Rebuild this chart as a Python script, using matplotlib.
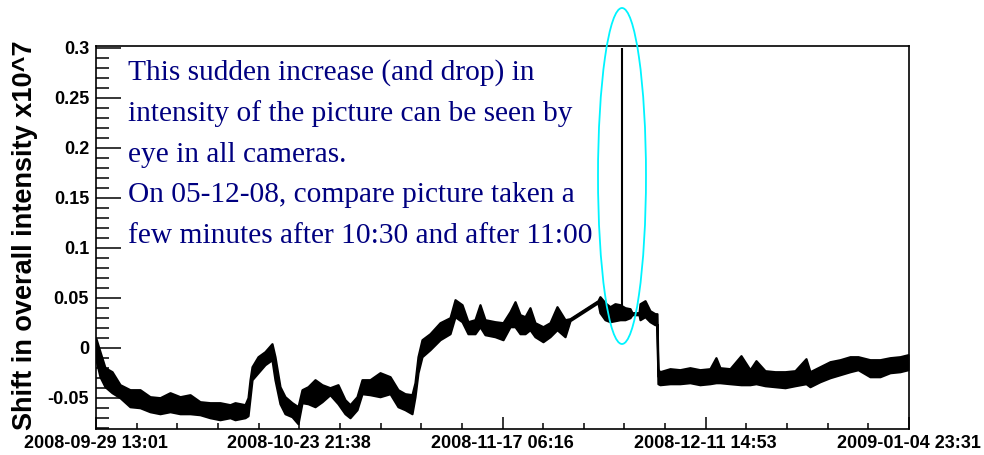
import datetime as dt
import matplotlib
matplotlib.use("Agg")
import matplotlib.pyplot as plt
import matplotlib.dates as mdates
from matplotlib.patches import Ellipse
from matplotlib.ticker import FixedLocator, MultipleLocator, FuncFormatter

# x axis tick labels (first and last are the axis ends)
xtick_labels = ["2008-09-29 13:01", "2008-10-23 21:38", "2008-11-17 06:16",
                "2008-12-11 14:53", "2009-01-04 23:31"]

# trace envelope: days since the first label, low / high value
days = [0.00, 0.48, 1.08, 1.92, 2.88, 4.07, 5.27, 6.47, 7.67, 8.87, 10.07, 11.27,
        12.46, 13.66, 14.86, 16.06, 16.66, 17.86, 18.22, 18.46, 18.70, 19.42, 20.25,
        21.09, 21.45, 22.05, 22.65, 23.49, 24.21, 24.69, 25.41, 26.25, 27.09, 28.04,
        29.00, 29.84, 30.44, 31.28, 31.88, 32.84, 34.04, 35.24, 36.19, 37.03, 37.87,
        38.23, 38.59, 39.07, 40.03, 41.23, 42.43, 43.03, 43.87, 44.58, 45.42, 46.02,
        46.62, 47.82, 48.78, 49.62, 50.22, 50.82, 51.42, 52.01, 52.61, 53.57, 54.41,
        55.25, 56.21, 56.81, 60.16, 60.40, 61.00, 61.60, 62.20, 62.80, 63.40, 64.00,
        64.24, 65.08, 65.20, 65.80, 66.39, 66.99, 67.23, 67.35, 67.59, 68.79, 69.98,
        71.18, 72.38, 73.58, 74.30, 74.78, 75.98, 77.30, 78.38, 79.10, 80.18, 81.38,
        82.58, 83.78, 85.09, 85.57, 86.77, 87.97, 89.17, 90.37, 91.33, 92.76, 93.96,
        95.16, 96.36, 97.32]
high = [0.009, -0.004, -0.020, -0.024, -0.037, -0.042, -0.042, -0.049, -0.050, -0.045,
        -0.049, -0.047, -0.054, -0.055, -0.055, -0.057, -0.055, -0.057, -0.050, -0.032,
        -0.019, -0.009, -0.004, 0.004, -0.009, -0.039, -0.049, -0.055, -0.059, -0.042,
        -0.039, -0.032, -0.037, -0.040, -0.037, -0.052, -0.057, -0.049, -0.032, -0.032,
        -0.025, -0.029, -0.042, -0.046, -0.047, -0.035, -0.009, 0.008, 0.014, 0.025,
        0.030, 0.048, 0.043, 0.026, 0.028, 0.043, 0.028, 0.026, 0.025, 0.036, 0.046,
        0.033, 0.031, 0.040, 0.025, 0.021, 0.025, 0.041, 0.028, 0.029, 0.047, 0.051,
        0.045, 0.041, 0.044, 0.043, 0.040, 0.039, 0.035, 0.035, 0.044, 0.047, 0.037,
        0.034, 0.034, -0.022, -0.024, -0.021, -0.022, -0.020, -0.022, -0.021, -0.010,
        -0.020, -0.021, -0.008, -0.022, -0.013, -0.023, -0.024, -0.024, -0.023, -0.011,
        -0.024, -0.019, -0.014, -0.012, -0.009, -0.009, -0.012, -0.012, -0.010, -0.009,
        -0.007]
low = [-0.012, -0.029, -0.039, -0.045, -0.050, -0.059, -0.060, -0.064, -0.066, -0.064,
       -0.066, -0.066, -0.067, -0.070, -0.072, -0.070, -0.072, -0.070, -0.068, -0.050,
       -0.032, -0.025, -0.017, -0.012, -0.032, -0.056, -0.066, -0.069, -0.076, -0.055,
       -0.056, -0.059, -0.054, -0.047, -0.056, -0.066, -0.070, -0.062, -0.046, -0.047,
       -0.049, -0.046, -0.059, -0.062, -0.066, -0.049, -0.025, -0.009, -0.002, 0.008,
       0.014, 0.031, 0.026, 0.014, 0.014, 0.021, 0.013, 0.011, 0.008, 0.021, 0.021,
       0.014, 0.014, 0.018, 0.011, 0.006, 0.011, 0.018, 0.011, 0.027, 0.045, 0.035,
       0.028, 0.026, 0.027, 0.028, 0.028, 0.030, 0.033, 0.033, 0.028, 0.031, 0.026,
       0.023, 0.023, -0.036, -0.037, -0.036, -0.036, -0.035, -0.037, -0.036, -0.035,
       -0.035, -0.036, -0.037, -0.037, -0.036, -0.038, -0.039, -0.040, -0.038, -0.036,
       -0.039, -0.034, -0.030, -0.027, -0.024, -0.022, -0.029, -0.029, -0.025, -0.024,
       -0.022]

# the jump on 05-12-08
spike_day = 63.04
spike_low, spike_high = 0.035, 0.30

note_lines = ["This sudden increase (and drop) in",
              "intensity of the picture can be seen by",
              "eye in all cameras.",
              "On 05-12-08, compare picture taken a",
              "few minutes after 10:30 and after 11:00"]

fmt = "%Y-%m-%d %H:%M"
tick_dates = [dt.datetime.strptime(s, fmt) for s in xtick_labels]
tick_pos = [mdates.date2num(d) for d in tick_dates]
t0 = tick_pos[0]
x = [t0 + d for d in days]
mid = [(a + b) / 2 for a, b in zip(low, high)]

fig = plt.figure(figsize=(9.84, 4.55), dpi=100)
ax = fig.add_axes([96 / 984, 26 / 455, 813 / 984, 383 / 455])

ax.fill_between(x, low, high, color="black", lw=1.6, edgecolor="black")
ax.plot(x, mid, color="black", lw=1.0)
ax.vlines(t0 + spike_day, spike_low, spike_high, color="black", lw=1.5)

ell = Ellipse((t0 + spike_day, 0.1717), width=5.75, height=0.336,
              fill=False, edgecolor="#00f4ff", lw=1.3, clip_on=False, zorder=5)
ax.add_patch(ell)

ax.set_xlim(tick_pos[0], tick_pos[-1])
ax.set_ylim(-0.0813, 0.3017)

ax.xaxis.set_major_locator(FixedLocator(tick_pos))
step = (tick_pos[-1] - tick_pos[0]) / 20
ax.xaxis.set_minor_locator(FixedLocator([t0 + i * step for i in range(21)]))
ax.xaxis.set_major_formatter(mdates.DateFormatter(fmt))
ax.yaxis.set_major_locator(MultipleLocator(0.05))
ax.yaxis.set_minor_locator(MultipleLocator(0.01))
ax.yaxis.set_major_formatter(FuncFormatter(lambda v, p: "%g" % round(v, 4)))

ax.tick_params(axis="x", which="major", direction="in", length=8.6, width=1.1,
               pad=4, labelsize=13)
ax.tick_params(axis="x", which="minor", direction="in", length=4.3, width=1.1)
ax.tick_params(axis="y", which="major", direction="in", length=18, width=1.1,
               pad=5, labelsize=13)
ax.tick_params(axis="y", which="minor", direction="in", length=9.4, width=1.1)
for lab in ax.get_xticklabels() + ax.get_yticklabels():
    lab.set_fontfamily("Liberation Sans")
    lab.set_fontweight("bold")
for s in ax.spines.values():
    s.set_linewidth(1.2)

ax.set_ylabel("Shift in overall intensity x10^7", fontsize=19.5, fontweight="bold",
              fontfamily="Liberation Sans", loc="top")
ax.yaxis.set_label_coords(-58 / 813, 1.015)

for i, line in enumerate(note_lines):
    ax.text(0.0394, 0.911 - i * 0.1065, line, transform=ax.transAxes,
            fontsize=21.2, fontfamily="Liberation Serif", color="#000080",
            va="baseline", ha="left")

fig.savefig("out.png", dpi=100)
